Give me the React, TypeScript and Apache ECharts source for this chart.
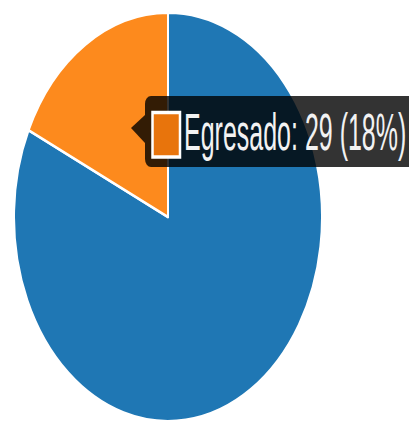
import React, { useEffect, useRef } from "react";
import * as echarts from "echarts";

const categories: string[] = ["Titulado", "Egresado"];
const values: number[] = [132, 29];
const colors: string[] = ["#1f77b4", "#fd8a1d"];
const tooltipIndex = 1;

const W = 409;
const H_FINAL = 423;
const S = 1.326; // vertical stretch of the whole picture
const H = Math.round(H_FINAL / S);
const Y = (y: number) => y / S;

export default function App() {
  const ref = useRef<HTMLDivElement>(null);
  useEffect(() => {
    if (!ref.current) return;
    const chart = echarts.init(ref.current, null, { renderer: "svg" });
    const total = values.reduce((a, b) => a + b, 0);
    const pct = Math.round((values[tooltipIndex] / total) * 100);
    const tipText = `${categories[tooltipIndex]}: ${values[tooltipIndex]} (${pct}%)`;
    chart.setOption({
      animation: false,
      series: [
        {
          type: "pie",
          center: [168, Y(217)],
          radius: 154,
          startAngle: 90,
          clockwise: true,
          silent: true,
          z: 1,
          label: { show: false },
          labelLine: { show: false },
          itemStyle: { borderColor: "#ffffff", borderWidth: 2 },
          data: categories.map((name, i) => ({
            name,
            value: values[i],
            itemStyle: { color: colors[i] },
          })),
        },
      ],
      graphic: {
        elements: [
          {
            type: "group",
            z: 100,
            zlevel: 1,
            children: [
              {
                type: "polygon",
                z: 100,
                shape: {
                  points: [
                    [131, Y(128)],
                    [145, Y(115)],
                    [145, Y(143)],
                  ],
                },
                style: { fill: "rgba(0,0,0,0.8)" },
              },
              {
                type: "rect",
                z: 100,
                shape: { x: 145, y: Y(96), width: 300, height: Y(167) - Y(96), r: 6 },
                style: { fill: "rgba(0,0,0,0.8)" },
              },
              {
                type: "rect",
                z: 101,
                shape: { x: 152.5, y: Y(112.5), width: 27.5, height: Y(157) - Y(112.5) },
                style: { fill: "#e8740c", stroke: "#ffffff", lineWidth: 2.5 },
              },
              {
                type: "text",
                z: 101,
                x: 184,
                y: Y(132),
                scaleY: 1.56,
                style: {
                  text: tipText,
                  fill: "#f2f2f2",
                  fontSize: 25,
                  fontFamily: '"Liberation Sans", Arial, sans-serif',
                  align: "left",
                  verticalAlign: "middle",
                },
              },
            ],
          },
        ],
      },
    });
    return () => chart.dispose();
  }, []);
  return (
    <div
      style={{
        position: "fixed",
        left: 0,
        top: 0,
        width: W,
        height: H_FINAL,
        overflow: "hidden",
        background: "#fff",
      }}
    >
      <div
        ref={ref}
        style={{
          width: W,
          height: H,
          transform: `scaleY(${S})`,
          transformOrigin: "top left",
        }}
      />
    </div>
  );
}
